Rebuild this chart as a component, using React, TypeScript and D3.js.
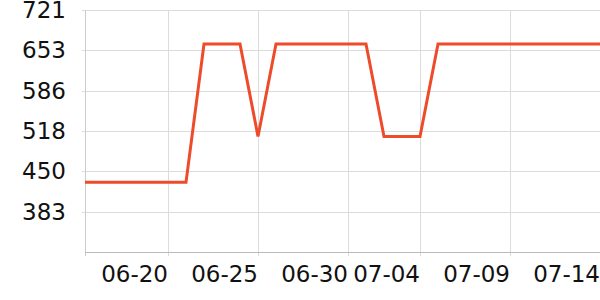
import React from "react";
import * as d3 from "d3";

const dates: string[] = [
  "2024-06-15T09:20", "2024-06-16T00:00", "2024-06-17T00:00", "2024-06-18T00:00",
  "2024-06-19T00:00", "2024-06-20T00:00", "2024-06-21T00:00", "2024-06-22T00:00",
  "2024-06-23T00:00", "2024-06-24T00:00", "2024-06-25T00:00", "2024-06-26T00:00",
  "2024-06-27T00:00", "2024-06-28T00:00", "2024-06-29T00:00", "2024-06-30T00:00",
  "2024-07-01T00:00", "2024-07-02T00:00", "2024-07-03T00:00", "2024-07-04T00:00",
  "2024-07-05T00:00", "2024-07-06T00:00", "2024-07-07T00:00", "2024-07-08T00:00",
  "2024-07-09T00:00", "2024-07-10T00:00", "2024-07-11T00:00", "2024-07-12T00:00",
  "2024-07-13T00:00", "2024-07-14T00:00",
];
const values: number[] = [
  432, 432, 432, 432, 432, 432, 432, 664, 664, 664, 509, 664, 664, 664, 664, 664,
  664, 509, 509, 509, 664, 664, 664, 664, 664, 664, 664, 664, 664, 664,
];
const xTickDates: string[] = [
  "2024-06-20T00:00", "2024-06-25T00:00", "2024-06-30T00:00",
  "2024-07-04T00:00", "2024-07-09T00:00", "2024-07-14T00:00",
];
const yTicks: number[] = [721, 653.36, 585.72, 518.08, 450.44, 382.8];
const yDomain: [number, number] = [315.16, 721];

const parse = d3.utcParse("%Y-%m-%dT%H:%M");
const fmt = d3.utcFormat("%m-%d");

export default function App() {
  const W = 600, H = 300;
  const left = 85, right = 600, top = 10, bottom = 252;
  const pts = dates.map((d, i) => ({ t: parse(d) as Date, v: values[i] }));
  const x = d3.scaleUtc().domain(d3.extent(pts, (p) => p.t) as [Date, Date]).range([left, right]);
  const y = d3.scaleLinear().domain(yDomain).range([bottom, top]);
  const line = d3.line<{ t: Date; v: number }>().x((p) => x(p.t)).y((p) => y(p.v));
  const xt = xTickDates.map((d) => parse(d) as Date);
  const font = "DejaVu Sans";
  return (
    <svg width={W} height={H} style={{ position: "absolute", left: 0, top: 0 }} fontFamily={font}>
      {yTicks.map((t, i) => (
        <g key={"y" + i}>
          <line x1={left - 3} x2={right} y1={Math.round(y(t)) + 0.5} y2={Math.round(y(t)) + 0.5} stroke="#dcdcdc" />
          <text x={66} y={y(t)} textAnchor="end" dominantBaseline="central" fontSize={23} fill="#111">
            {d3.format(".0f")(t)}
          </text>
        </g>
      ))}
      {xt.map((t, i) => (
        <g key={"x" + i}>
          <line x1={Math.round(x(t)) + 0.5} x2={Math.round(x(t)) + 0.5} y1={top} y2={bottom + 4} stroke="#dcdcdc" />
          <text x={x(t)} y={282} textAnchor="end" fontSize={23} fill="#111">
            {fmt(t)}
          </text>
        </g>
      ))}
      <line x1={left + 0.5} x2={left + 0.5} y1={top} y2={bottom + 4} stroke="#cccccc" />
      <line x1={left} x2={right} y1={bottom + 0.5} y2={bottom + 0.5} stroke="#bbbbbb" />
      <path d={line(pts) || ""} fill="none" stroke="#ee4b2b" strokeWidth={3} strokeLinejoin="miter" />
    </svg>
  );
}
